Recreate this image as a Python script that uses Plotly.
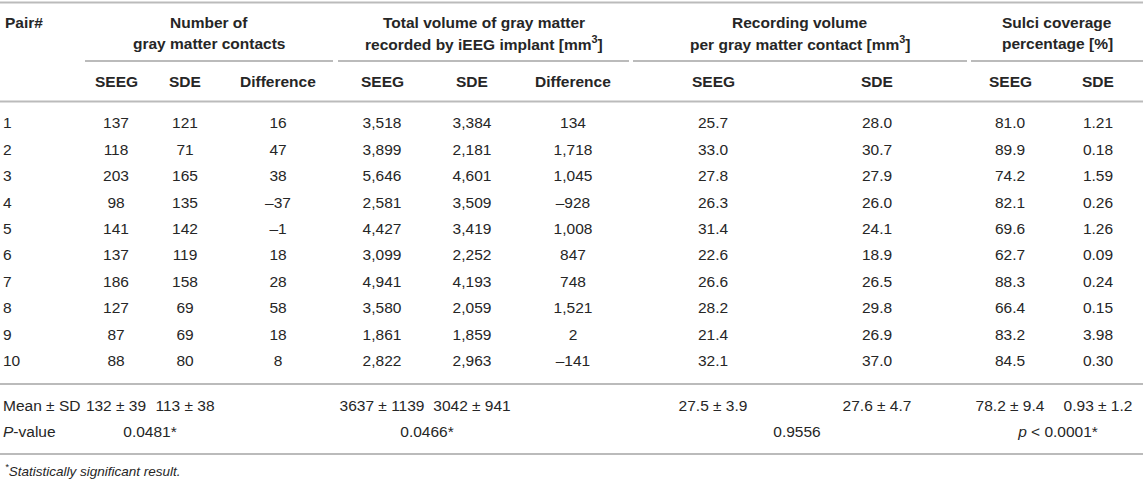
import plotly.graph_objects as go

# table data
pairs = [1, 2, 3, 4, 5, 6, 7, 8, 9, 10]
contacts_seeg = [137, 118, 203, 98, 141, 137, 186, 127, 87, 88]
contacts_sde = [121, 71, 165, 135, 142, 119, 158, 69, 69, 80]
contacts_diff = [16, 47, 38, -37, -1, 18, 28, 58, 18, 8]
volume_seeg = [3518, 3899, 5646, 2581, 4427, 3099, 4941, 3580, 1861, 2822]
volume_sde = [3384, 2181, 4601, 3509, 3419, 2252, 4193, 2059, 1859, 2963]
volume_diff = [134, 1718, 1045, -928, 1008, 847, 748, 1521, 2, -141]
per_contact_seeg = [25.7, 33.0, 27.8, 26.3, 31.4, 22.6, 26.6, 28.2, 21.4, 32.1]
per_contact_sde = [28.0, 30.7, 27.9, 26.0, 24.1, 18.9, 26.5, 29.8, 26.9, 37.0]
sulci_seeg = [81.0, 89.9, 74.2, 82.1, 69.6, 62.7, 88.3, 66.4, 83.2, 84.5]
sulci_sde = [1.21, 0.18, 1.59, 0.26, 1.26, 0.09, 0.24, 0.15, 3.98, 0.30]

mean_sd = ["132 ± 39", "113 ± 38", "3637 ± 1139", "3042 ± 941",
           "27.5 ± 3.9", "27.6 ± 4.7", "78.2 ± 9.4", "0.93 ± 1.2"]
p_values = ["0.0481*", "0.0466*", "0.9556", "<i>p</i> &lt; 0.0001*"]

group_titles = [
    ("Number of", "gray matter contacts"),
    ("Total volume of gray matter", "recorded by iEEG implant [mm<sup>3</sup>]"),
    ("Recording volume", "per gray matter contact [mm<sup>3</sup>]"),
    ("Sulci coverage", "percentage [%]"),
]
sub_headers = ["SEEG", "SDE", "Difference", "SEEG", "SDE", "Difference",
               "SEEG", "SDE", "SEEG", "SDE"]

# layout (pixels)
W, H = 1143, 481
ROW0, STEP = 124.5, 26.4
col_x = [116, 185, 278, 382, 472, 573, 713, 877, 1010, 1098]
group_spans = [(85, 333), (338, 629), (633, 967), (971, 1143)]
mean_x = col_x[:2] + col_x[3:5] + col_x[6:]
p_x = [150, 427, 797, 1058]
TXT = "#262626"
RULE = "#bbbbbb"
FONT = "Liberation Sans, Arial, Helvetica, sans-serif"
FS = 15.5


def row_y(px):
    return 1 + (px - ROW0) / STEP


def fmt_int(v):
    return f"{v:,}".replace("-", "–")


fig = go.Figure()


def add_text(xs, ys, texts, pos="middle center", size=FS):
    fig.add_trace(go.Scatter(
        x=xs, y=ys, mode="text", text=texts, textposition=pos,
        textfont=dict(size=size, color=TXT, family=FONT),
        hoverinfo="skip", showlegend=False))


columns = [
    [fmt_int(v) for v in contacts_seeg],
    [fmt_int(v) for v in contacts_sde],
    [fmt_int(v) for v in contacts_diff],
    [fmt_int(v) for v in volume_seeg],
    [fmt_int(v) for v in volume_sde],
    [fmt_int(v) for v in volume_diff],
    [f"{v:.1f}" for v in per_contact_seeg],
    [f"{v:.1f}" for v in per_contact_sde],
    [f"{v:.1f}" for v in sulci_seeg],
    [f"{v:.2f}" for v in sulci_sde],
]

# pair numbers, left aligned
add_text([3] * len(pairs), pairs, [str(p) for p in pairs], pos="middle right")
for x, col in zip(col_x, columns):
    add_text([x] * len(pairs), pairs, col)

# summary rows
y_mean, y_p = row_y(407), row_y(433)
add_text([3, 3], [y_mean, y_p], ["Mean ± SD", "<i>P</i>-value"], pos="middle right")
add_text(mean_x, [y_mean] * len(mean_sd), mean_sd)
add_text(p_x, [y_p] * len(p_values), p_values)

# headers
ann = [dict(x=3, y=row_y(22), text="<b>Pair#</b>", xanchor="left")]
for (a, b), (x0, x1) in zip(group_titles, group_spans):
    c = (x0 + x1) / 2
    ann.append(dict(x=c, y=row_y(22), text=f"<b>{a}</b>", xanchor="center"))
    ann.append(dict(x=c, y=row_y(43), text=f"<b>{b}</b>", xanchor="center"))
for x, s in zip(col_x, sub_headers):
    ann.append(dict(x=x, y=row_y(81), text=f"<b>{s}</b>", xanchor="center"))
for a in ann:
    a.update(xref="x", yref="y", yanchor="middle", showarrow=False,
             font=dict(size=FS, color=TXT, family=FONT))
ann.append(dict(x=3, y=row_y(470), xref="x", yref="y", xanchor="left", yanchor="middle",
                text="<i><sup>*</sup>Statistically significant result.</i>", showarrow=False,
                font=dict(size=13.5, color=TXT, family=FONT)))
fig.update_layout(annotations=ann)

# horizontal rules
shapes = []
for px in [2.5, 101.5, 384, 454]:
    shapes.append(dict(type="line", x0=0, x1=W, y0=row_y(px), y1=row_y(px)))
for x0, x1 in group_spans:
    shapes.append(dict(type="line", x0=x0, x1=x1, y0=row_y(61), y1=row_y(61)))
for s in shapes:
    s.update(xref="x", yref="y", line=dict(color=RULE, width=2))
fig.update_layout(shapes=shapes)

fig.update_layout(
    width=W, height=H,
    margin=dict(l=0, r=0, t=0, b=0),
    paper_bgcolor="white", plot_bgcolor="white",
    xaxis=dict(range=[0, W], visible=False, fixedrange=True),
    yaxis=dict(range=[row_y(H), row_y(0)], visible=False, fixedrange=True),
)

fig.write_html("out.html", config={"displayModeBar": False},
               post_script="document.body.style.margin='0px';")
